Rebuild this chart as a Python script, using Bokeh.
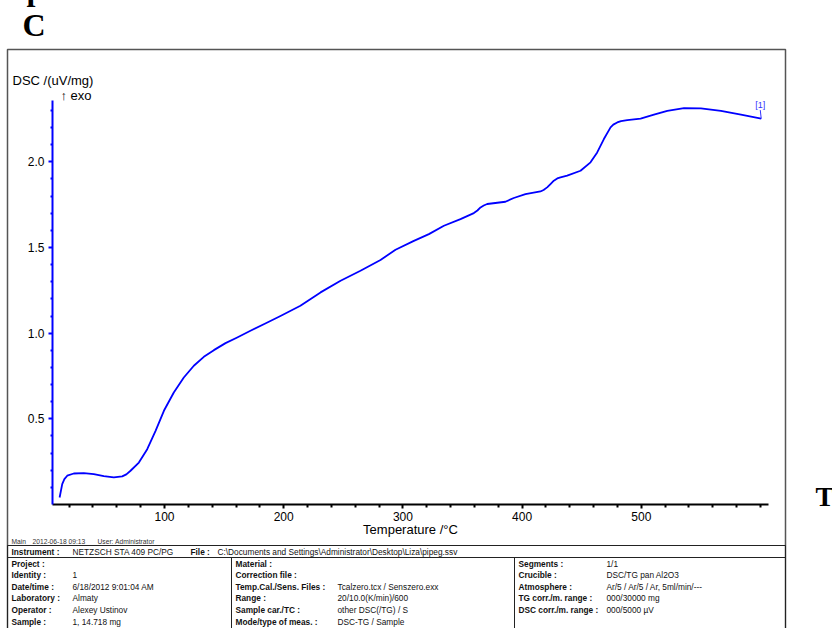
from bokeh.plotting import figure
from bokeh.models import Range1d, FixedTicker, Label, ColumnDataSource, PrintfTickFormatter
from bokeh.core.properties import value
from bokeh.embed import file_html
from bokeh.resources import INLINE

# ---------------- data ----------------
temperature = [12, 14.2, 16, 18.4, 23.9, 32.3, 40.7, 49.1, 57.5, 64.5, 68, 71.5, 78.5, 85.5,
               92.5, 99.5, 107.8, 116.2, 124.6, 133, 141.4, 151.2, 161, 172.1, 185,
               197.3, 214, 230.9, 247.7, 264.4, 281.2, 293.8, 309.2, 321.8, 334.4,
               348.3, 359.5, 362.5, 365.1, 367.8, 370.7, 386, 393, 402.8, 415.4, 418, 421,
               424, 426.6, 429.5, 432.2, 437.8, 449, 457.4, 463, 468.6, 474.2, 476.5,
               479.8, 483, 488.2, 499.4, 510.6, 521.8, 535.8, 550, 566.8, 583.6, 600.6]
dsc = [0.041, 0.119, 0.148, 0.168, 0.181, 0.183, 0.177, 0.166, 0.158, 0.164, 0.176, 0.197,
       0.245, 0.323, 0.43, 0.547, 0.654, 0.741, 0.81, 0.862, 0.901, 0.942, 0.975, 1.014,
       1.058, 1.10, 1.16, 1.238, 1.306, 1.364, 1.427, 1.487, 1.539, 1.578, 1.627, 1.666,
       1.701, 1.716, 1.734, 1.745, 1.754, 1.767, 1.789, 1.812, 1.827, 1.836, 1.851, 1.872,
       1.89, 1.903, 1.909, 1.919, 1.948, 1.997, 2.055, 2.133, 2.201, 2.217, 2.23, 2.238,
       2.244, 2.252, 2.275, 2.298, 2.314, 2.312, 2.298, 2.275, 2.252]

x_major_ticks = [100, 200, 300, 400, 500]
x_minor_ticks = [20, 40, 60, 80, 120, 140, 160, 180, 220, 240, 260, 280, 320, 340, 360,
                 380, 420, 440, 460, 480, 520, 540, 560, 580, 600]
y_major_ticks = [0.5, 1.0, 1.5, 2.0]
y_minor_ticks = [0.1, 0.2, 0.3, 0.4, 0.6, 0.7, 0.8, 0.9, 1.1, 1.2, 1.3, 1.4, 1.6, 1.7,
                 1.8, 1.9, 2.1, 2.2, 2.3]

x_title = "Temperature /°C"
y_title = "DSC /(uV/mg)"
exo_note = "↑ exo"
curve_tag = "[1]"

header_line = ["Main", "2012-06-18 09:13", "User: Administrator"]
instrument_row = [("Instrument :", "NETZSCH STA 409 PC/PG"),
                  ("File :", "C:\\Documents and Settings\\Administrator\\Desktop\\Liza\\pipeg.ssv")]
col1 = [("Project :", ""), ("Identity :", "1"), ("Date/time :", "6/18/2012 9:01:04 AM"),
        ("Laboratory :", "Almaty"), ("Operator :", "Alexey Ustinov"), ("Sample :", "1, 14.718 mg")]
col2 = [("Material :", ""), ("Correction file :", ""),
        ("Temp.Cal./Sens. Files :", "Tcalzero.tcx / Senszero.exx"),
        ("Range :", "20/10.0(K/min)/600"), ("Sample car./TC :", "other DSC(/TG) / S"),
        ("Mode/type of meas. :", "DSC-TG / Sample")]
col3 = [("Segments :", "1/1"), ("Crucible :", "DSC/TG pan Al2O3"),
        ("Atmosphere :", "Ar/5 / Ar/5 / Ar, 5ml/min/---"),
        ("TG corr./m. range :", "000/30000 mg"), ("DSC corr./m. range :", "000/5000 µV")]

# ---------------- layout (canvas pixels) ----------------
W, H = 832, 628
FL, FR, FT, FB = 52, 768, 100, 504   # plot frame edges in canvas px

SANS = "Liberation Sans"
SERIF = "Liberation Serif"
TABLE_FS = "8.3px"

p = figure(width=W, height=H, output_backend="svg", toolbar_location=None,
           x_range=Range1d(6.04, 606.7), y_range=Range1d(0, 2.358),
           min_border_left=FL, min_border_right=W - FR, min_border_top=FT,
           min_border_bottom=H - FB)
p.outline_line_color = None
p.grid.visible = False
p.background_fill_color = "white"
p.border_fill_color = "white"

# pixel coordinate system for the page decorations (same scale as the canvas)
p.extra_x_ranges = {"px": Range1d(FL, FR)}
p.extra_y_ranges = {"py": Range1d(FB, FT)}

# x axis
xa = p.xaxis[0]
xa.ticker = FixedTicker(ticks=x_major_ticks, minor_ticks=x_minor_ticks)
xa.axis_line_color = "black"
xa.axis_line_width = 2
xa.major_tick_line_color = "black"
xa.major_tick_line_width = 2
xa.major_tick_in = 0
xa.major_tick_out = 4
xa.minor_tick_line_color = "black"
xa.minor_tick_line_width = 2
xa.minor_tick_in = 0
xa.minor_tick_out = 3
xa.major_label_text_font = SANS
xa.major_label_text_font_size = "12px"
xa.major_label_text_color = "black"
xa.major_label_standoff = 3

# y axis
ya = p.yaxis[0]
ya.ticker = FixedTicker(ticks=y_major_ticks, minor_ticks=y_minor_ticks)
ya.formatter = PrintfTickFormatter(format="%.1f")
ya.axis_line_color = "blue"
ya.axis_line_width = 2
ya.major_tick_line_color = "blue"
ya.major_tick_line_width = 2
ya.major_tick_in = 0
ya.major_tick_out = 4
ya.minor_tick_line_color = "blue"
ya.minor_tick_line_width = 2
ya.minor_tick_in = 0
ya.minor_tick_out = 2
ya.major_label_text_font = SANS
ya.major_label_text_font_size = "12px"
ya.major_label_text_color = "black"
ya.major_label_standoff = 4

# curve
src = ColumnDataSource(dict(t=temperature, d=dsc))
p.line("t", "d", source=src, line_color="#0000ff", line_width=1.8, line_join="round")

# curve tag leader + label (anchored at last data point)
p.segment(x0=[temperature[-1]], y0=[dsc[-1]], x1=[temperature[-1] - 0.8], y1=[dsc[-1] + 0.05],
          line_color="#3333ff", line_width=1)
p.add_layout(Label(x=temperature[-1], y=dsc[-1], x_offset=-1, y_offset=14, text=curve_tag,
                   text_font=SANS, text_font_size="9px", text_color="#3333ff",
                   text_align="center", text_baseline="middle"))

# ---------------- page decorations (overlay level: not clipped to the frame) ----------------
def texts(xs, ys, strs, size=TABLE_FS, bold=False, align="left", color="#111111",
          font=SANS, baseline="middle"):
    p.text(x=xs, y=ys, text=strs, x_range_name="px", y_range_name="py", level="overlay",
           text_font=value(font), text_font_size=value(size),
           text_font_style=value("bold" if bold else "normal"),
           text_align=value(align), text_baseline=value(baseline), text_color=value(color))

def boxes(x0s, y0s, x1s, y1s, color="#222222", width=1.0):
    p.quad(left=x0s, right=x1s, top=y0s, bottom=y1s, x_range_name="px", y_range_name="py",
           level="overlay", fill_alpha=0, line_color=color, line_width=width)

# axis titles
texts([12], [80], [y_title], size="13px", color="black")
texts([60], [95], [exo_note], size="13px", color="black")
texts([410], [529], [x_title], size="13px", align="center", color="black")

# page letters from the surrounding document
texts([26], [-11.6], ["p"], size="32px", bold=True, color="black", font=SERIF)
texts([22], [24.5], ["C"], size="32px", bold=True, color="black", font=SERIF)
texts([815], [496], ["T"], size="28px", bold=True, color="black", font=SERIF)

# outer frame and table boxes
boxes([7], [49], [785], [700], color="#555555", width=1.5)
boxes([7, 7, 231, 514], [545, 557, 557, 557], [785, 231, 514, 785], [557, 700, 700, 700])

# header line
texts([11, 32, 97], [540.5] * 3, header_line, size="6.7px", color="#333333")

# instrument row
texts([11, 190], [551.5, 551.5], [instrument_row[0][0], instrument_row[1][0]], bold=True)
texts([72, 217], [551.5, 551.5], [instrument_row[0][1], instrument_row[1][1]])

row_y = [563, 574.6, 586.2, 597.8, 609.4, 621]
for cols, xk, xv in ((col1, 11, 72), (col2, 235, 337), (col3, 518, 606)):
    ys = row_y[:len(cols)]
    texts([xk] * len(cols), ys, [k for k, _ in cols], bold=True)
    vals = [(v, yy) for (_, v), yy in zip(cols, ys) if v]
    texts([xv] * len(vals), [yy for _, yy in vals], [v for v, _ in vals])

open("out.html", "w").write(file_html(p, INLINE))
